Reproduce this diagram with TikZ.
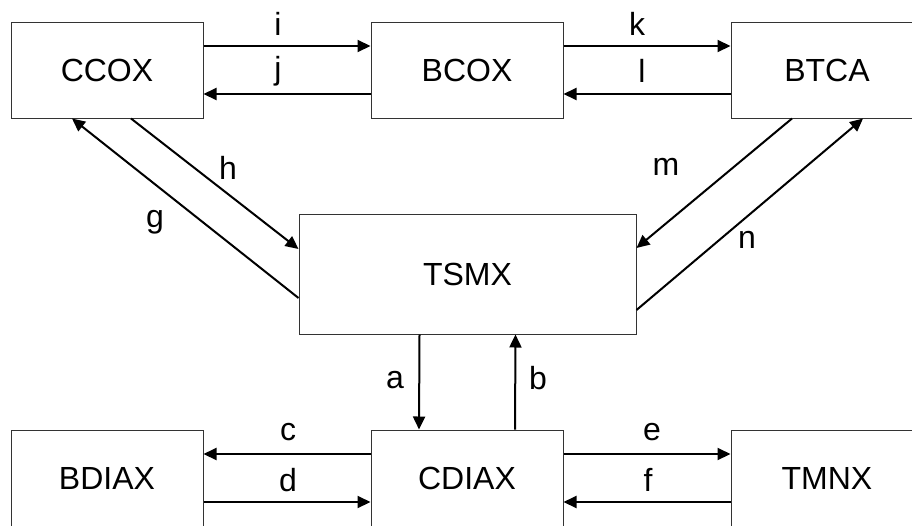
\documentclass[tikz,border=0pt]{standalone}
\usepackage{fontspec}
\setmainfont{Liberation Sans}
\usetikzlibrary{arrows.meta}
\begin{document}
\begin{tikzpicture}[x=1pt,y=-1pt,
  box/.style={draw=black!80,line width=1pt,fill=white,minimum width=192pt,minimum height=96pt,inner sep=0pt,font=\fontsize{32}{38}\selectfont},
  conn/.style={line width=2pt,-{Triangle[length=13pt,width=12pt]}},
  lbl/.style={font=\fontsize{32}{38}\selectfont,inner sep=0pt}]
\path[use as bounding box,clip] (0,0) rectangle (912,525);
\node[box] (ccox) at (107,70) {CCOX};
\node[box] (bcox) at (467,70) {BCOX};
\node[box] (btca) at (827,70) {BTCA};
\node[box,minimum width=337pt,minimum height=120pt] (tsmx) at (467.5,274) {TSMX};
\node[box] (bdiax) at (107,478) {BDIAX};
\node[box] (cdiax) at (467,478) {CDIAX};
\node[box] (tmnx) at (827,478) {TMNX};
% top row
\draw[conn] ([yshift=24pt]ccox.east) -- ([yshift=24pt]bcox.west);
\draw[conn] ([yshift=-24pt]bcox.west) -- ([yshift=-24pt]ccox.east);
\draw[conn] ([yshift=24pt]bcox.east) -- ([yshift=24pt]btca.west);
\draw[conn] ([yshift=-24pt]btca.west) -- ([yshift=-24pt]bcox.east);
% diagonals
\draw[conn] ([yshift=-24pt]tsmx.west) -- ([xshift=-35pt]ccox.south);
\draw[conn] ([xshift=24pt]ccox.south) -- ([yshift=25pt]tsmx.west);
\draw[conn] ([xshift=-35pt]btca.south) -- ([yshift=26pt]tsmx.east);
\draw[conn] ([yshift=-36pt]tsmx.east) -- ([xshift=36pt]btca.south);
% vertical
\draw[conn] ([xshift=-48pt]tsmx.south) -- ([xshift=-48pt]cdiax.north);
\draw[conn] ([xshift=48pt]cdiax.north) -- ([xshift=48pt]tsmx.south);
% bottom row
\draw[conn] ([yshift=24pt]cdiax.west) -- ([yshift=24pt]bdiax.east);
\draw[conn] ([yshift=-24pt]bdiax.east) -- ([yshift=-24pt]cdiax.west);
\draw[conn] ([yshift=24pt]cdiax.east) -- ([yshift=24pt]tmnx.west);
\draw[conn] ([yshift=-24pt]tmnx.west) -- ([yshift=-24pt]cdiax.east);
% labels
\node[lbl] (li) at (278,24) {i};
\node[lbl] (lj) at (278,71) {j};
\node[lbl] (lk) at (637,24) {k};
\node[lbl] (ll) at (642,71) {l};
\node[lbl] (lh) at (228,168) {h};
\node[lbl] (lg) at (155,222) {g};
\node[lbl] (lm) at (666,167) {m};
\node[lbl] (ln) at (747,240) {n};
\node[lbl] (la) at (395,380) {a};
\node[lbl] (lb) at (538,378) {b};
\node[lbl] (lc) at (288,432) {c};
\node[lbl] (ld) at (288,480) {d};
\node[lbl] (le) at (652,432) {e};
\node[lbl] (lf) at (648,480) {f};
\end{tikzpicture}
\end{document}
